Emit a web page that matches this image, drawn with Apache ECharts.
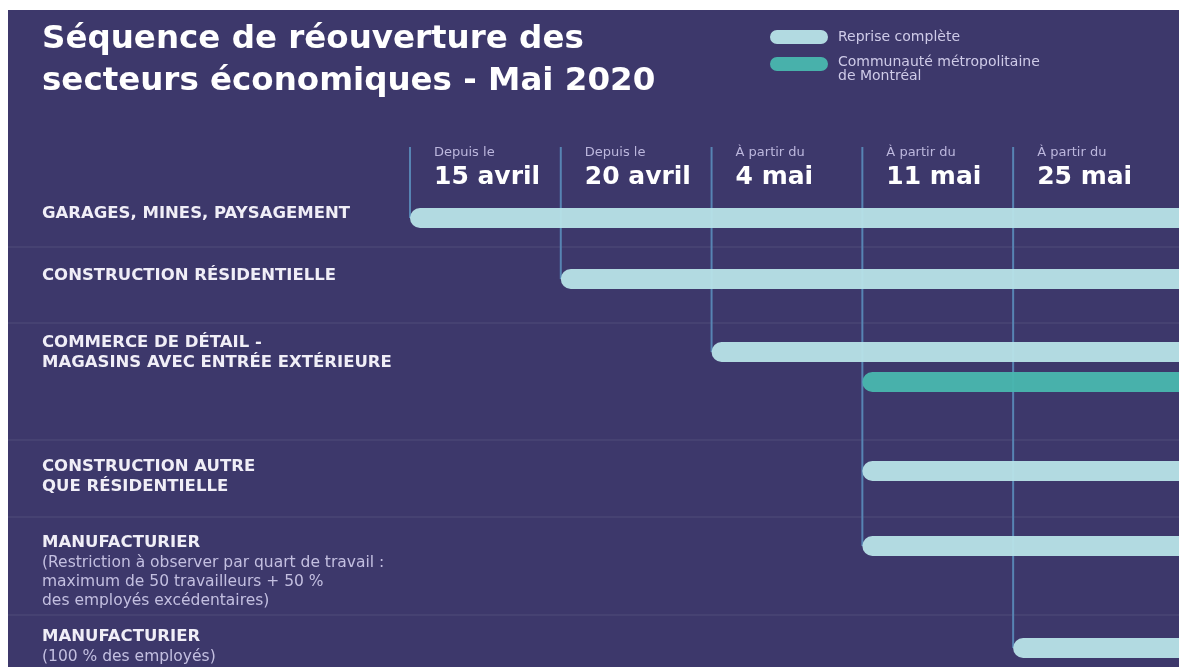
<!DOCTYPE html>
<html>
<head>
<meta charset="utf-8">
<title>Séquence de réouverture des secteurs économiques - Mai 2020</title>
<script src="https://cdn.jsdelivr.net/npm/echarts@6/dist/echarts.min.js"></script>
<style>
  html, body { margin: 0; padding: 0; background: #fff; }
  #chart { position: absolute; left: 8px; top: 10px; width: 1171px; height: 657px; background: #3d386b; }
</style>
</head>
<body>
<div id="chart"></div>
<script>
// jalons de l'axe horizontal
var milestonePrefix = ['Depuis le', 'Depuis le', 'À partir du', 'À partir du', 'À partir du'];
var milestoneDates = ['15 avril', '20 avril', '4 mai', '11 mai', '25 mai'];

// secteurs (une ligne chacun)
var sectors = [
  'GARAGES, MINES, PAYSAGEMENT',
  'CONSTRUCTION RÉSIDENTIELLE',
  'COMMERCE DE DÉTAIL -\nMAGASINS AVEC ENTRÉE EXTÉRIEURE',
  'CONSTRUCTION AUTRE\nQUE RÉSIDENTIELLE',
  'MANUFACTURIER',
  'MANUFACTURIER'
];
var sectorNotes = [
  '',
  '',
  '',
  '',
  '(Restriction à observer par quart de travail :\nmaximum de 50 travailleurs + 50 %\ndes employés excédentaires)',
  '(100 % des employés)'
];

// index du jalon où la reprise commence
var repriseStart = [0, 1, 2, 3, 3, 4];
var cmmStart = [null, null, 3, null, null, null];

var legendNames = ['Reprise complète', 'Communauté métropolitaine\nde Montréal'];

// mise en page
var FONT = '"DejaVu Sans", sans-serif';
var GRID_LEFT = 402;
var X_MAX = 5.1;
var LINE_TOP = 137;
var BAR_H = 20;
var LANE_H = 30;
var rowTops = [193, 254, 327, 446, 521, 623];
var labelTops = [194, 256, 323, 447, 523, 617];
var separators = [237, 313, 430, 507, 605];
var LIGHT = '#b8e3e8';
var TEAL = '#49b7af';
var GUIDE = '#5784b3';

var chart = echarts.init(document.getElementById('chart'));

// dernier couloir qui démarre à chaque jalon -> fin de la ligne verticale
var lastLane = {};
sectors.forEach(function (s, r) {
  lastLane[repriseStart[r]] = { row: r, lane: 0 };
  if (cmmStart[r] != null) lastLane[cmmStart[r]] = { row: r, lane: 1 };
});

function renderBar(params, api) {
  var p = api.coord([api.value(0), api.value(1)]);
  var end = api.coord([X_MAX, api.value(1)]);
  return {
    type: 'rect',
    shape: { x: p[0], y: p[1] - BAR_H / 2, width: end[0] - p[0], height: BAR_H, r: [BAR_H / 2, 0, 0, BAR_H / 2] },
    style: api.style()
  };
}

function renderGuide(params, api) {
  var p = api.coord([api.value(0), api.value(1)]);
  return {
    type: 'line',
    shape: { x1: p[0], y1: LINE_TOP, x2: p[0], y2: p[1] },
    style: { stroke: GUIDE, lineWidth: 2 }
  };
}

var grids = [{ left: GRID_LEFT, right: 0, top: 136, height: 50 }];
var xAxes = [{
  gridIndex: 0, type: 'value', min: 0, max: X_MAX, interval: 1, position: 'top',
  axisLine: { show: false }, axisTick: { show: false }, splitLine: { show: false },
  axisLabel: {
    inside: true, margin: 0, align: 'left', verticalAlign: 'top', padding: [0, 0, 0, 24],
    showMaxLabel: false,
    formatter: function (v) {
      if (v !== Math.round(v) || !milestoneDates[v]) return '';
      return '{a|' + milestonePrefix[v] + '}\n{b|' + milestoneDates[v] + '}';
    },
    rich: {
      a: { fontFamily: FONT, fontSize: 13, color: '#bcb7dd', lineHeight: 14 },
      b: { fontFamily: FONT, fontSize: 25, fontWeight: 'bold', color: '#ffffff', lineHeight: 34 }
    }
  }
}];
var yAxes = [{ gridIndex: 0, type: 'category', data: [''], show: false }];
var series = [];
var titles = [{
  text: 'Séquence de réouverture des\nsecteurs économiques - Mai 2020',
  left: 34, top: 9, padding: 0,
  textStyle: { color: '#ffffff', fontFamily: FONT, fontWeight: 'bold', fontSize: 32.5, lineHeight: 42 }
}];

sectors.forEach(function (name, r) {
  var g = r + 1;
  var lanes = cmmStart[r] != null ? legendNames : [legendNames[0]];
  grids.push({ left: GRID_LEFT, right: 0, top: rowTops[r], height: LANE_H * lanes.length });
  xAxes.push({ gridIndex: g, type: 'value', min: 0, max: X_MAX, interval: 1, show: false });
  yAxes.push({ gridIndex: g, type: 'category', inverse: true, data: lanes, show: false });

  series.push({
    type: 'custom', name: legendNames[0], xAxisIndex: g, yAxisIndex: g, z: 3, silent: true,
    itemStyle: { color: LIGHT, opacity: 0.95 },
    renderItem: renderBar,
    data: [[repriseStart[r], 0]]
  });
  if (cmmStart[r] != null) {
    series.push({
      type: 'custom', name: legendNames[1], xAxisIndex: g, yAxisIndex: g, z: 3, silent: true,
      itemStyle: { color: TEAL, opacity: 0.95 },
      renderItem: renderBar,
      data: [[cmmStart[r], 1]]
    });
  }
  var guides = [];
  Object.keys(lastLane).forEach(function (m) {
    if (lastLane[m].row === r) guides.push([+m, lastLane[m].lane]);
  });
  if (guides.length) {
    series.push({
      type: 'custom', xAxisIndex: g, yAxisIndex: g, z: 1, silent: true,
      renderItem: renderGuide, data: guides
    });
  }

  titles.push({
    text: name, subtext: sectorNotes[r],
    left: 34, top: labelTops[r], padding: 0, itemGap: 0,
    textStyle: { color: '#f0eef7', fontFamily: FONT, fontWeight: 'bold', fontSize: 16.5, lineHeight: 20 },
    subtextStyle: { color: '#c3bfe0', fontFamily: FONT, fontSize: 15.5, lineHeight: 19 }
  });
});

var pill = 'path://M7,0 H51 A7,7 0 0 1 51,14 H7 A7,7 0 0 1 7,0 Z';
var legendText = { color: '#cfcbe8', fontFamily: FONT, fontSize: 14, lineHeight: 14 };

chart.setOption({
  backgroundColor: '#3d386b',
  animation: false,
  title: titles,
  legend: {
    left: 762, top: 20, orient: 'vertical', itemWidth: 58, itemHeight: 14, itemGap: 1,
    selectedMode: false, icon: pill, padding: 0,
    formatter: function (name) {
      var lines = name.split('\n').map(function (l) { return '{t|' + l + '}'; });
      // la 2e entrée commence au niveau du centre de la pastille
      if (lines.length > 1) lines.unshift('{g|}');
      return lines.join('\n');
    },
    textStyle: {
      color: '#cfcbe8', fontFamily: FONT, fontSize: 14, lineHeight: 14, padding: [0, 0, 0, 5],
      rich: { t: legendText, g: { fontSize: 1, lineHeight: 10 } }
    },
    data: [
      { name: legendNames[0], itemStyle: { color: LIGHT } },
      { name: legendNames[1], itemStyle: { color: TEAL } }
    ]
  },
  graphic: separators.map(function (y) {
    return {
      type: 'line', silent: true, z: 0,
      shape: { x1: 0, y1: y, x2: 1171, y2: y },
      style: { stroke: 'rgba(255,255,255,0.07)', lineWidth: 1.5 }
    };
  }),
  grid: grids,
  xAxis: xAxes,
  yAxis: yAxes,
  series: series
});
</script>
</body>
</html>
